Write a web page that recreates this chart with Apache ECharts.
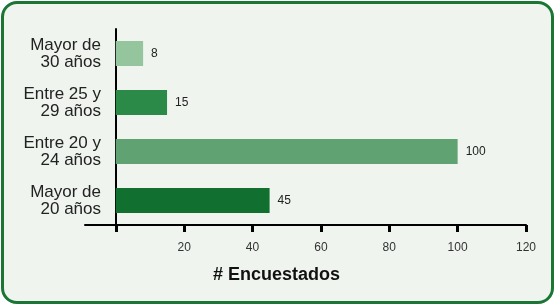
<!DOCTYPE html>
<html>
<head>
<meta charset="utf-8">
<script src="https://cdn.jsdelivr.net/npm/echarts@6/dist/echarts.min.js"></script>
<style>
  html, body { margin: 0; padding: 0; background: #fff; }
  #frame {
    position: absolute; left: 1px; top: 1px; width: 547px; height: 297px;
    border: 3px solid #1b7636; border-radius: 16px; background: #eff4ef;
  }
  #main { position: absolute; left: 0; top: 0; width: 555px; height: 305px; }
</style>
</head>
<body>
<div id="frame"></div>
<div id="main"></div>
<script>
// categorias de arriba hacia abajo
var categories = ['Mayor de\n30 años', 'Entre 25 y\n29 años', 'Entre 20 y\n24 años', 'Mayor de\n20 años'];
var values = [8, 15, 100, 45];
var barColors = ['#95c59d', '#2b8a48', '#60a271', '#11702f'];
var tickValues = [0, 20, 40, 60, 80, 100, 120];
var labelValues = [20, 40, 60, 80, 100, 120];

var font = '"Liberation Sans", Arial, sans-serif';
var myChart = echarts.init(document.getElementById('main'), null, { renderer: 'canvas' });

var option = {
  backgroundColor: 'transparent',
  animation: false,
  title: {
    text: '# Encuestados',
    left: 208,
    top: 261,
    textStyle: { fontFamily: font, fontWeight: 'bold', fontSize: 18, color: '#111' }
  },
  grid: { left: 85, right: 29, top: 29, bottom: 80, containLabel: false, outerBoundsMode: 'none' },
  xAxis: {
    type: 'value',
    min: -9,
    max: 120,
    axisLine: { show: true, lineStyle: { color: '#000', width: 2 } },
    axisTick: { show: true, customValues: tickValues, length: 7, lineStyle: { color: '#000', width: 3 } },
    axisLabel: {
      customValues: labelValues,
      margin: 17,
      fontFamily: font, fontSize: 12, color: '#333'
    },
    splitLine: { show: false }
  },
  yAxis: {
    type: 'category',
    inverse: true,
    data: categories,
    axisLine: { show: true, onZero: true, lineStyle: { color: '#000', width: 2 } },
    axisTick: { show: false },
    axisLabel: {
      margin: -16,
      align: 'right',
      fontFamily: font, fontSize: 17, lineHeight: 17, color: '#222'
    }
  },
  series: [{
    type: 'bar',
    barWidth: 25,
    data: values.map(function (v, i) {
      return { value: v, itemStyle: { color: barColors[i] } };
    }),
    label: {
      show: true,
      position: 'right',
      distance: 8,
      fontFamily: font, fontSize: 12, color: '#222'
    }
  }]
};
myChart.setOption(option);
</script>
</body>
</html>
